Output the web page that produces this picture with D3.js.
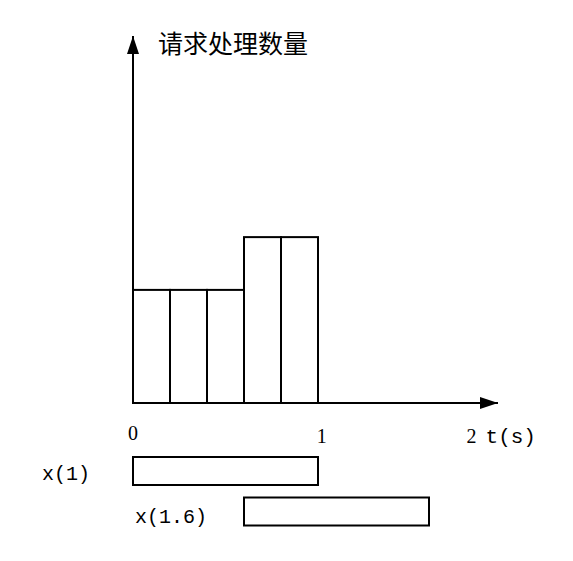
<!DOCTYPE html>
<html>
<head>
<meta charset="utf-8">
<script src="https://cdn.jsdelivr.net/npm/d3@7"></script>
<style>
  body { margin: 0; background: #fff; }
  text { fill: #000; }
</style>
</head>
<body>
<script>
// bars: requests handled in each 0.2s slot
var slotStart = [0, 0.2, 0.4, 0.6, 0.8];
var slotCount = [6, 6, 6, 8.8, 8.8];
var slotWidth = 0.2;

// sliding windows drawn under the axis
var windowNames = ["x(1)", "x(1.6)"];
var windowStart = [0, 0.6];
var windowEnd = [1, 1.6];

// tick labels (hand placed in the original, so positions are estimates in seconds)
var tickText = ["0", "1", "2"];
var tickAt = [0, 1.02, 1.83];

var yTitle = "请求处理数量";
var xTitle = "t(s)";

window.onload = function() {

    const width = 573, height = 561;

    var svg = d3.select("body").append("svg")
        .attr("width", width)
        .attr("height", height);

    var xScale = d3.scaleLinear().domain([0, 1]).range([133, 318]);
    var yScale = d3.scaleLinear().domain([0, 10]).range([403, 214.5]);

    // arrow heads
    var defs = svg.append("defs");
    defs.append("marker")
        .attr("id", "arrow")
        .attr("viewBox", "0 0 18 12")
        .attr("refX", 18)
        .attr("refY", 6)
        .attr("markerWidth", 18)
        .attr("markerHeight", 12)
        .attr("markerUnits", "userSpaceOnUse")
        .attr("orient", "auto")
        .append("path")
        .attr("d", "M0,0L18,6L0,12Z")
        .attr("fill", "#000");

    // bars
    svg.append("g")
        .selectAll("rect")
        .data(slotStart)
        .enter().append("rect")
        .attr("x", function(d) { return xScale(d); })
        .attr("y", function(d, i) { return yScale(slotCount[i]); })
        .attr("width", xScale(slotWidth) - xScale(0))
        .attr("height", function(d, i) { return yScale(0) - yScale(slotCount[i]); })
        .attr("fill", "none")
        .attr("stroke", "#000")
        .attr("stroke-width", 2);

    // axes
    svg.append("line")
        .attr("x1", xScale(0)).attr("y1", yScale(0))
        .attr("x2", 498).attr("y2", yScale(0))
        .attr("stroke", "#000").attr("stroke-width", 2)
        .attr("marker-end", "url(#arrow)");

    svg.append("line")
        .attr("x1", xScale(0)).attr("y1", yScale(0))
        .attr("x2", xScale(0)).attr("y2", 36)
        .attr("stroke", "#000").attr("stroke-width", 2)
        .attr("marker-end", "url(#arrow)");

    svg.append("text")
        .attr("x", 158)
        .attr("y", 53)
        .attr("font-family", "'Noto Sans CJK SC', sans-serif")
        .attr("font-size", 25)
        .text(yTitle);

    // tick labels
    svg.append("g")
        .selectAll("text")
        .data(tickText)
        .enter().append("text")
        .attr("x", function(d, i) { return xScale(tickAt[i]); })
        .attr("y", function(d, i) { return i === 0 ? 440 : 443; })
        .attr("text-anchor", "middle")
        .attr("font-family", "'Liberation Serif', serif")
        .attr("font-size", 20)
        .text(function(d) { return d; });

    svg.append("text")
        .attr("x", xScale(tickAt[2]) + 14)
        .attr("y", 443)
        .attr("font-family", "'Liberation Mono', monospace")
        .attr("font-size", 21)
        .text(xTitle);

    // windows
    var win = svg.append("g")
        .selectAll("g")
        .data(windowNames)
        .enter().append("g");

    win.append("rect")
        .attr("x", function(d, i) { return xScale(windowStart[i]); })
        .attr("y", function(d, i) { return 457 + i * 40.5; })
        .attr("width", function(d, i) { return xScale(windowEnd[i]) - xScale(windowStart[i]); })
        .attr("height", 28)
        .attr("fill", "none")
        .attr("stroke", "#000")
        .attr("stroke-width", 2);

    win.append("text")
        .attr("x", function(d, i) { return xScale(windowStart[i]) - (i === 0 ? 43 : 37); })
        .attr("y", function(d, i) { return 480 + i * 43; })
        .attr("text-anchor", "end")
        .attr("font-family", "'Liberation Mono', monospace")
        .attr("font-size", 20)
        .text(function(d) { return d; });
};
</script>
</body>
</html>
